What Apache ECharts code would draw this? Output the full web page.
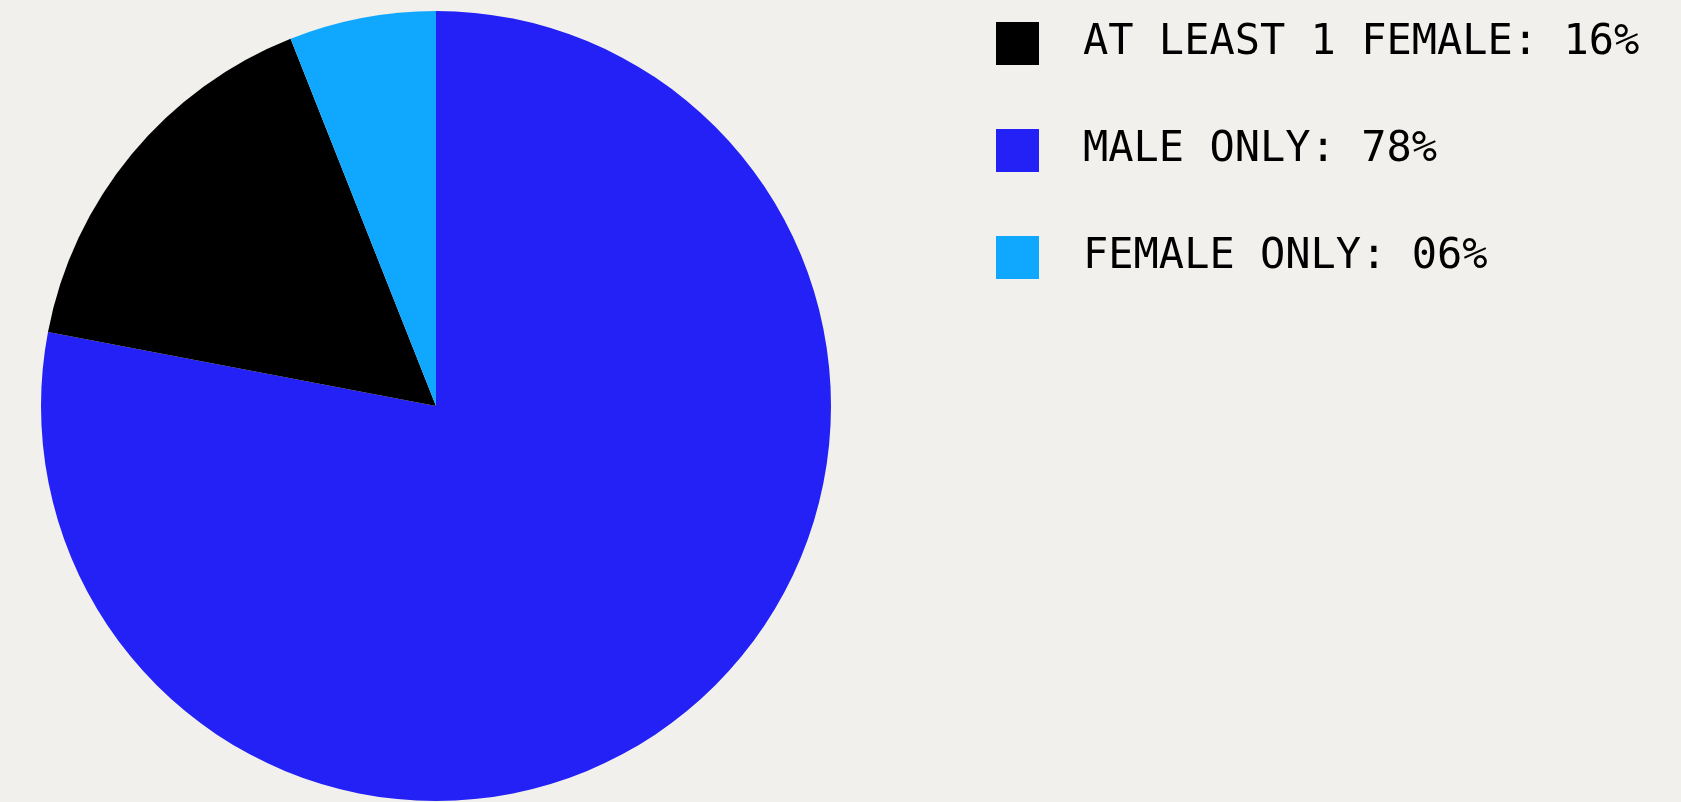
<!DOCTYPE html>
<html>
<head>
<meta charset="utf-8">
<style>
  html, body { margin: 0; padding: 0; background: #F1F0EC; }
  #chart { width: 1681px; height: 802px; }
</style>
<script src="https://cdn.jsdelivr.net/npm/echarts@6/dist/echarts.min.js"></script>
</head>
<body>
<div id="chart"></div>
<script>
// Slice categories, in clockwise drawing order from the top
const categories = ['MALE ONLY', 'AT LEAST 1 FEMALE', 'FEMALE ONLY'];
const shares = [78, 16, 6];
const sliceColors = ['#2321F5', '#000000', '#10A8FF'];
// Order of entries in the legend
const legendOrder = ['AT LEAST 1 FEMALE', 'MALE ONLY', 'FEMALE ONLY'];

const shareByName = {};
categories.forEach((c, i) => { shareByName[c] = shares[i]; });

const chart = echarts.init(document.getElementById('chart'));
chart.setOption({
  backgroundColor: '#F1F0EC',
  animation: false,
  legend: {
    orient: 'vertical',
    left: 991,
    top: 17,
    itemWidth: 43,
    itemHeight: 43,
    itemGap: 64,
    icon: 'rect',
    selectedMode: false,
    data: legendOrder,
    formatter: name => name + ': ' + String(shareByName[name]).padStart(2, '0') + '%',
    textStyle: {
      fontFamily: '"DejaVu Sans Mono", "Liberation Mono", monospace',
      fontSize: 42,
      color: '#000000',
      padding: [0, 0, 0, 39]
    }
  },
  series: [{
    type: 'pie',
    center: [436, 406],
    radius: 395,
    startAngle: 90,
    clockwise: true,
    label: { show: false },
    labelLine: { show: false },
    emphasis: { disabled: true },
    itemStyle: { borderWidth: 0 },
    data: categories.map((c, i) => ({
      name: c,
      value: shares[i],
      itemStyle: { color: sliceColors[i] }
    }))
  }]
});
</script>
</body>
</html>
